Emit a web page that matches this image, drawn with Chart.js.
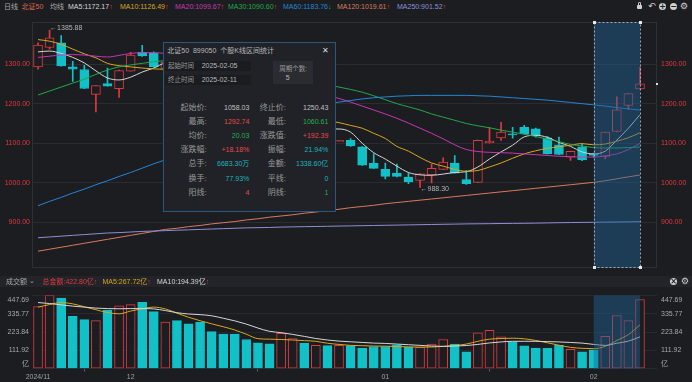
<!DOCTYPE html>
<html lang="zh-CN"><head><meta charset="utf-8"><title>北证50 日线</title>
<script src="https://cdn.jsdelivr.net/npm/chart.js@4.4.1/dist/chart.umd.min.js"></script>
<style>
*{box-sizing:border-box}
html,body{margin:0;padding:0;background:#1c1d21;}
body{width:692px;height:382px;overflow:hidden;position:relative;font-family:"Liberation Sans","Noto Sans CJK SC",sans-serif;font-size:7px;color:#a8a8a8}
.t{position:absolute;white-space:nowrap;line-height:9px;}
canvas{position:absolute;left:0}
#cMain{top:14px}
#cVol{top:283px}
#volHdr{position:absolute;left:0;top:276px;width:692px;height:11px;background:#232429}
#pop{position:absolute;left:163px;top:42px;width:173px;height:170px;background:#202227;border:1px solid #2b5878;z-index:5}
#pop .t{line-height:10px}
.ic{position:absolute;width:7px;height:7px;border-radius:50%;background:#d0d0d0;color:#1c1d21;font-size:8px;line-height:7px;text-align:center;font-weight:bold;font-family:"DejaVu Sans",sans-serif}
.gear{position:absolute;color:#d0d0d0;font-size:9px;line-height:9px;font-family:"DejaVu Sans",sans-serif}
</style></head>
<body>
<div id="volHdr"></div>
<canvas id="cMain" width="692" height="262"></canvas>
<canvas id="cVol" width="692" height="99"></canvas>
<div id="hdr"></div>
<div id="pop"></div>
<script>
// ---------------- data ----------------
const xTickIdx = [0, 8, 30, 48];
const xTickLabels = ['2024/11', '12', '01', '02'];
const priceTicks = [900, 1000, 1100, 1200, 1300];
const volTicks = [0, 111.92, 223.84, 335.77, 447.69];

const open  = [1293,1342,1354,1293,1286.5,1223.7,1250.6,1237.7,1282.4,1329.8,1327,1289,1300,1266,1242,1220,1197,1175,1152,1138,1122,1095,1138,1158,1128,1138,1104,1107,1091,1050,1034,1024.2,1014.5,1006,1020,1034,1050,1008,1001,1100.7,1113.7,1124,1140,1136.7,1113.7,1096,1064.8,1091,1073,1066.5,1130,1195.4,1237.6];
const high  = [1354,1385.88,1372,1307,1297,1246,1290,1285,1330,1347.7,1331,1312,1306,1272,1250,1226,1204,1182,1160,1145,1128,1145,1168,1162,1148,1142,1107,1112,1091.5,1073,1050,1047,1024,1023,1047,1063.3,1069,1030.6,1108,1140,1153,1140,1145,1138,1117,1115.4,1080,1097.6,1075,1128.4,1217.4,1226,1292.74];
const low   = [1287,1338,1295,1256.5,1238,1179,1244,1215.6,1282,1319.5,1292.5,1283,1262,1232,1210,1188,1165,1143,1128,1112,1090,1088,1130,1124,1120,1105,1104,1092,1044,1036,1009.5,1014.5,998,988.30,999.7,1033,1024,995.6,1000,1100,1107,1113,1123,1115,1072,1071,1056.7,1056,1064,1060.61,1129,1185.6,1236];
const close = [1348,1366.5,1295.6,1287,1238.4,1245.7,1244,1283.4,1323,1320.8,1293,1305,1268,1240,1218,1195,1172,1150,1135,1120,1098,1140,1160,1130,1140,1110,1107,1093,1044.5,1036.4,1016,1016,1002,1022.5,1036.4,1052.6,1024.2,998,1107,1105.6,1128.4,1121,1123.5,1118.6,1073,1071.5,1079.5,1058.03,1069,1128.4,1184.6,1225.4,1250.43];
const volume = [380,447.69,432,320,300,293,358,384,391,406,348,284,293,274,284,226,211,211,178,157,152,215,184,156,143,141,143,141,126,135,135,146,131,130,150,178,150,102,219,234,195,163,139,126,124,143,118,102,115,198,324,293,422.80];

const ma5   = [1331,1333,1327,1317,1303,1283,1265,1260,1267,1280,1290,1302,1300,1290,1270,1245,1218,1195,1170,1150,1131,1129,1133,1134,1136,1136,1136,1128,1100,1076,1060,1042,1026,1020,1019,1022,1026,1028,1040,1060,1078,1095,1116,1120,1115,1102,1092,1078,1073,1080,1108,1138,1172.17];
const ma10  = [1362,1358,1350,1338,1326,1316,1302,1296,1293,1290,1288,1287,1288,1285,1278,1268,1255,1240,1225,1210,1195,1183,1175,1168,1162,1157,1152,1145,1138,1125,1112,1092,1080,1064,1050,1042,1034,1029,1031,1040,1050,1062,1073,1081,1087,1091,1095,1099,1096,1098,1105,1114,1126.49];
const ma20  = [1317,1320,1323,1324,1323,1320,1318,1322,1327,1329,1329,1327,1324,1320,1315,1308,1300,1292,1283,1273,1263,1254,1245,1236,1229,1222,1213,1204,1194,1184,1174,1163,1151,1138,1125,1111,1096,1084,1079,1077,1076,1075,1073,1071,1069,1067,1066,1065,1065,1068,1073,1084,1099.67];
const ma30  = [1222,1232,1242,1252,1262,1274,1285,1293,1298,1302,1306,1309,1311,1312,1311,1309,1305,1300,1294,1287,1280,1272,1265,1258,1252,1247,1242,1236,1229,1220,1210,1200,1192,1184,1174,1166,1158,1150,1144,1139,1133,1128,1123,1117,1110,1104,1097,1093,1089,1088,1088,1089,1090.60];
const ma60  = [942,953,963,974,984,995,1005,1016,1026,1037,1048,1058,1069,1080,1091,1102,1113,1124,1135,1146,1157,1167,1177,1186,1193,1199,1204,1208,1212,1215,1217,1219,1220,1221,1221,1221,1221,1221,1220,1219,1217,1215,1213,1211,1209,1206,1203,1200,1197,1194,1190,1187,1183.76];
const ma120 = [827,832,837,842,847,852,857,862,867,872,877,882,885,889,892,896,899,902,906,909,913,916,919,923,926,930,933,937,940,943,947,950,953,956,959,962,965,968,971,974,977,980,983,986,989,992,995,998,1001,1005,1010,1015,1019.61];
const ma250 = [861,863,865,867,869,871,873,874,875.5,877,878,879,880,881,882,883,884,885,886,886.5,887,888,888.5,889,889.5,890,890.5,891,891.5,892,892.5,893,893.5,894,894.5,895,895.5,896,896.3,896.6,897,897.3,897.6,898,898.5,899,899.4,899.8,900.1,900.5,900.8,901.2,901.52];
const volMa5  = [376,392,404,396,378,360,343,335,352,366,376,365,339,314,293,274,256,236,210,183,180,178,175,171,167,155,148,142,140,138,137,135,133,131,132,136,141,150,167,180,184,186,182,172,158,143,130,124,122,136,172,208,267.72];
const volMa10 = [404,398,390,382,376,370,367,366,367,367,365,355,342,334,330,323,308,292,272,248,228,220,209,197,184,175,168,164,160,156,154,150,146,142,138,136,138,141,148,157,163,167,167,167,165,163,160,156,148,142,155,168,194.39];

const selStart = 48, selEnd = 52;

// ---------------- style ----------------
const BG = '#1c1d21', RED = '#e0393e', CYAN = '#12c0c8';
const C5 = '#d6d6d6', C10 = '#d8a81e', C20 = '#c936b4', C30 = '#22a84c', C60 = '#2386d6', C120 = '#d97a5f', C250 = '#8c8fd6';
const SEL_FILL = 'rgba(30,100,150,0.45)';
const FONT = '"Liberation Sans", "Noto Sans CJK SC", sans-serif';
Chart.defaults.font.family = FONT;
Chart.defaults.font.size = 7;
Chart.defaults.animation = false;

const N = open.length;
const idx = open.map((_, i) => i);
const up = i => close[i] >= open[i];
const XMIN = -0.52, XMAX = 53.47;

const line = (arr, color) => ({type:'line', data: idx.map(i => ({x:i, y:arr[i]})), borderColor: color, borderWidth: 1,
  pointRadius: 0, fill: false, cubicInterpolationMode: 'monotone', order: 0});

// ---------------- main chart ----------------
const mainDecor = {
  id: 'mainDecor',
  beforeDatasetsDraw(chart) {
    const {ctx, chartArea: a} = chart;
    ctx.save();
    ctx.strokeStyle = '#2e3036'; ctx.lineWidth = 1;
    ctx.strokeRect(Math.round(a.left) + 0.5, Math.round(a.top) + 0.5, Math.round(a.right - a.left) - 1, Math.round(a.bottom - a.top) - 1);
    ctx.restore();
  },
  afterDatasetsDraw(chart) {
    const {ctx, chartArea: a, scales: {x, y}} = chart;
    const x0 = x.getPixelForValue(selStart), x1 = x.getPixelForValue(selEnd);
    ctx.save();
    ctx.fillStyle = SEL_FILL;
    ctx.fillRect(x0, a.top, x1 - x0, a.bottom - a.top);
    ctx.setLineDash([2, 2]);
    ctx.strokeStyle = 'rgba(205,210,215,0.75)'; ctx.lineWidth = 1;
    ctx.strokeRect(Math.round(x0) + 0.5, Math.round(a.top) + 0.5, Math.round(x1 - x0), Math.round(a.bottom - a.top) - 1);
    ctx.setLineDash([]);
    ctx.fillStyle = '#e8e8e8';
    [[x0, a.top], [x1, a.top], [x0, a.bottom - 1], [x1, a.bottom - 1]].forEach(p => ctx.fillRect(Math.round(p[0]) - 1, Math.round(p[1]) - 1, 3, 3));
    // extreme labels
    const hi = Math.max(...high), hiI = high.indexOf(hi);
    const lo = Math.min(...low), loI = low.indexOf(lo);
    ctx.font = '7px ' + FONT; ctx.fillStyle = '#b4b4b4'; ctx.textBaseline = 'middle'; ctx.textAlign = 'left';
    ctx.fillText('←' + hi.toFixed(2), x.getPixelForValue(hiI) + 0.5, y.getPixelForValue(hi) - 2);
    ctx.fillText('←' + lo.toFixed(2), x.getPixelForValue(loI) + 0.5, y.getPixelForValue(lo) + 1.5);
    // last price marker
    const ly = y.getPixelForValue(close[N - 1]);
    ctx.fillStyle = '#e0e0e0';
    ctx.fillRect(Math.round(a.right) - 1, Math.round(ly) - 1, 2, 2);
    ctx.restore();
  }
};

const priceAxis = (pos, width, pad) => ({
  position: pos, min: 785, max: 1406,
  afterBuildTicks: s => { s.ticks = priceTicks.map(v => ({value: v})); },
  afterFit: s => { s.width = width; },
  ticks: {color: RED, padding: pad, autoSkip: false, callback: v => Number(v).toFixed(2)},
  grid: {color: '#2a2c31', drawTicks: false, drawOnChartArea: pos === 'left'},
  border: {display: false}
});

new Chart(document.getElementById('cMain'), {
  type: 'bar',
  data: {datasets: [
    {type:'bar', data: idx.map(i => ({x:i, y:[low[i], high[i]]})), backgroundColor: idx.map(i => up(i) ? RED : CYAN),
      barThickness: 1, grouped: false, order: 2},
    {type:'bar', data: idx.map(i => ({x:i, y:[open[i], close[i]]})), backgroundColor: idx.map(i => up(i) ? BG : CYAN),
      borderColor: idx.map(i => up(i) ? RED : CYAN), borderWidth: 1, borderSkipped: false, barThickness: 9, grouped: false, minBarLength: 1, order: 1},
    line(ma250, C250), line(ma120, C120), line(ma60, C60), line(ma30, C30), line(ma20, C20), line(ma10, C10), line(ma5, C5)
  ]},
  options: {
    responsive: false, devicePixelRatio: 1, animation: false,
    layout: {padding: {top: 3, bottom: 4, left: 0, right: 0}},
    plugins: {legend: {display: false}, tooltip: {enabled: false}},
    scales: {
      x: {type: 'linear', min: XMIN, max: XMAX, offset: false, display: false},
      y: priceAxis('left', 32, 2),
      yR: priceAxis('right', 35, 4)
    }
  },
  plugins: [mainDecor]
});

// ---------------- volume chart ----------------
const volDecor = {
  id: 'volDecor',
  afterDatasetsDraw(chart) {
    const {ctx, chartArea: a, scales: {x}} = chart;
    const x0 = x.getPixelForValue(selStart), x1 = x.getPixelForValue(selEnd);
    ctx.save();
    ctx.fillStyle = SEL_FILL;
    ctx.fillRect(x0, a.top, x1 - x0, a.bottom - a.top);
    ctx.restore();
  }
};
const VMAX = volTicks[volTicks.length - 1];
const volAxis = (pos, width, pad) => ({
  position: pos, min: 0, max: VMAX,
  afterBuildTicks: s => { s.ticks = volTicks.map(v => ({value: v})); },
  afterFit: s => { s.width = width; },
  ticks: {color: '#a8a8a8', padding: pad, autoSkip: false,
    callback: v => v === 0 ? ['亿', ''] : (Math.abs(v - VMAX) < 1e-6 ? ['', Number(v).toFixed(2)] : Number(v).toFixed(2))},
  grid: {color: '#27292e', drawTicks: false, drawOnChartArea: pos === 'left'},
  border: {display: false}
});

new Chart(document.getElementById('cVol'), {
  type: 'bar',
  data: {datasets: [
    {type:'bar', data: idx.map(i => ({x:i, y:volume[i]})), backgroundColor: idx.map(i => up(i) ? BG : CYAN),
      borderColor: idx.map(i => up(i) ? RED : CYAN), borderWidth: 1, borderSkipped: false, barThickness: 9, grouped: false, order: 1},
    line(volMa10, C5), line(volMa5, C10)
  ]},
  options: {
    responsive: false, devicePixelRatio: 1, animation: false,
    layout: {padding: {top: 6.3, bottom: 0, left: 0, right: 0}},
    plugins: {legend: {display: false}, tooltip: {enabled: false}},
    scales: {
      x: {type: 'linear', min: XMIN, max: XMAX, offset: false,
        afterBuildTicks: s => { s.ticks = xTickIdx.map(v => ({value: v})); },
        ticks: {color: '#a0a0a0', padding: 1, maxRotation: 0, autoSkip: false, callback: (v, i) => xTickLabels[i]},
        grid: {display: true, drawOnChartArea: false, tickLength: 3, color: '#5a5c62'},
        border: {display: false}},
      y: volAxis('left', 32, 3),
      yR: volAxis('right', 35, 4)
    }
  },
  plugins: [volDecor]
});

// ---------------- header texts ----------------
const UP = '<span style="color:#e3393c">↑</span>', DN = '<span style="color:#22b04a">↓</span>';
const last = a => a[a.length - 1].toFixed(2);
function addT(parent, left, cy, html, color, size, extra) {
  const d = document.createElement('div');
  d.className = 't';
  d.style.left = left + 'px';
  const lh = 9;
  d.style.top = (cy - lh / 2) + 'px';
  d.style.lineHeight = lh + 'px';
  if (color) d.style.color = color;
  if (size) d.style.fontSize = size + 'px';
  if (extra) Object.assign(d.style, extra);
  d.innerHTML = html;
  parent.appendChild(d);
  return d;
}
const body = document.body;
addT(body, 4, 6.5, '日线', '#a8a8a8');
addT(body, 21.5, 6.5, '北证50', '#d86a48');
addT(body, 50, 6.5, '均线', '#a8a8a8');
addT(body, 68, 6.5, 'MA5:' + last(ma5) + UP, C5);
addT(body, 120, 6.5, 'MA10:' + last(ma10) + UP, C10);
addT(body, 175, 6.5, 'MA20:' + last(ma20) + UP, C20);
addT(body, 228, 6.5, 'MA30:' + last(ma30) + UP, C30);
addT(body, 283, 6.5, 'MA60:' + last(ma60) + DN, C60);
addT(body, 337, 6.5, 'MA120:' + last(ma120) + UP, C120);
addT(body, 397, 6.5, 'MA250:' + last(ma250) + UP, C250);
// toolbar icons
const lock = document.createElement('div');
lock.style.cssText = 'position:absolute;left:637px;top:5px;width:5px;height:4px;background:#d0d0d0;border-radius:1px';
body.appendChild(lock);
const lockArc = document.createElement('div');
lockArc.style.cssText = 'position:absolute;left:638px;top:2px;width:3px;height:4px;border:1px solid #d0d0d0;border-bottom:none;border-radius:2px 2px 0 0';
body.appendChild(lockArc);
addT(body, 648, 6.5, '↶', '#d0d0d0', 9, {fontFamily: '"DejaVu Sans",sans-serif'});
function ic(left, top, ch) { const d = document.createElement('div'); d.className = 'ic'; d.style.left = left + 'px'; d.style.top = top + 'px'; d.textContent = ch; body.appendChild(d); }
ic(659, 3, '+'); ic(670, 3, '−');
const g1 = document.createElement('div'); g1.className = 'gear'; g1.style.left = '680px'; g1.style.top = '2px'; g1.textContent = '⚙'; body.appendChild(g1);

// volume header
addT(body, 6, 281.5, '成交额', '#a8a8a8');
addT(body, 29, 281.5, '⌄', '#a8a8a8', 7, {fontFamily: '"DejaVu Sans",sans-serif'});
addT(body, 42.5, 281.5, '总金额:' + last(volume) + '亿' + UP, RED);
addT(body, 102.5, 281.5, 'MA5:' + last(volMa5) + '亿' + UP, C10);
addT(body, 157, 281.5, 'MA10:' + last(volMa10) + '亿' + UP, C5);
ic(670, 278, '×');
const g2 = document.createElement('div'); g2.className = 'gear'; g2.style.left = '681px'; g2.style.top = '277px'; g2.textContent = '⚙'; body.appendChild(g2);

// ---------------- statistics popup ----------------
const pop = document.getElementById('pop');
const PR = '#e5484d', PG = '#27ae4f', PT = '#1fb5bb', PW = '#c0c0c0', PL = '#9a9a9a';
addT(pop, 3.3, 7.3, '北证50&nbsp;&nbsp;899050&nbsp;&nbsp;个股K线区间统计', '#b8b8b8', 7);
addT(pop, 158, 7.3, '✕', '#dcdcdc', 8, {fontFamily: '"DejaVu Sans",sans-serif'});
function box(l, t, w, h, c) { const d = document.createElement('div'); d.style.cssText = `position:absolute;left:${l}px;top:${t}px;width:${w}px;height:${h}px;background:${c}`; pop.appendChild(d); }
box(1, 17.5, 86, 10, '#1a1c20');
box(1, 31.5, 86, 10, '#1a1c20');
box(109, 17.5, 40, 23.5, '#2a2c31');
addT(pop, 4, 22.3, '起始时间', PL, 6.5);
addT(pop, 37.7, 22.3, '2025-02-05', '#b8b8b8', 7);
addT(pop, 4, 36.3, '终止时间', PL, 6.5);
addT(pop, 37.7, 36.3, '2025-02-11', '#b8b8b8', 7);
addT(pop, 115.3, 25.7, '周期个数:', PL, 6.5);
addT(pop, 121.7, 34, '5', '#b8b8b8', 7);
const popRows = [
  ['起始价:', '1058.03', PW, '终止价:', '1250.43', PW],
  ['最高:', '1292.74', PR, '最低:', '1060.61', PG],
  ['均价:', '20.03', PG, '涨跌值:', '+192.39', PR],
  ['涨跌幅:', '+18.18%', PR, '振幅:', '21.94%', PT],
  ['总手:', '6683.30万', PT, '金额:', '1338.60亿', PT],
  ['换手:', '77.93%', PT, '平线:', '0', PT],
  ['阳线:', '4', PR, '阴线:', '1', PG]
];
popRows.forEach((r, k) => {
  const cy = 64 + 14.2 * k;
  const R = (right, txt, col, size) => addT(pop, right - 60, cy, txt, col, size, {width: '60px', textAlign: 'right'});
  R(42.7, r[0], PL, 8);
  R(85.3, r[1], r[2], 7);
  R(122, r[3], PL, 8);
  R(164.3, r[4], r[5], 7);
});
</script>
</body></html>
